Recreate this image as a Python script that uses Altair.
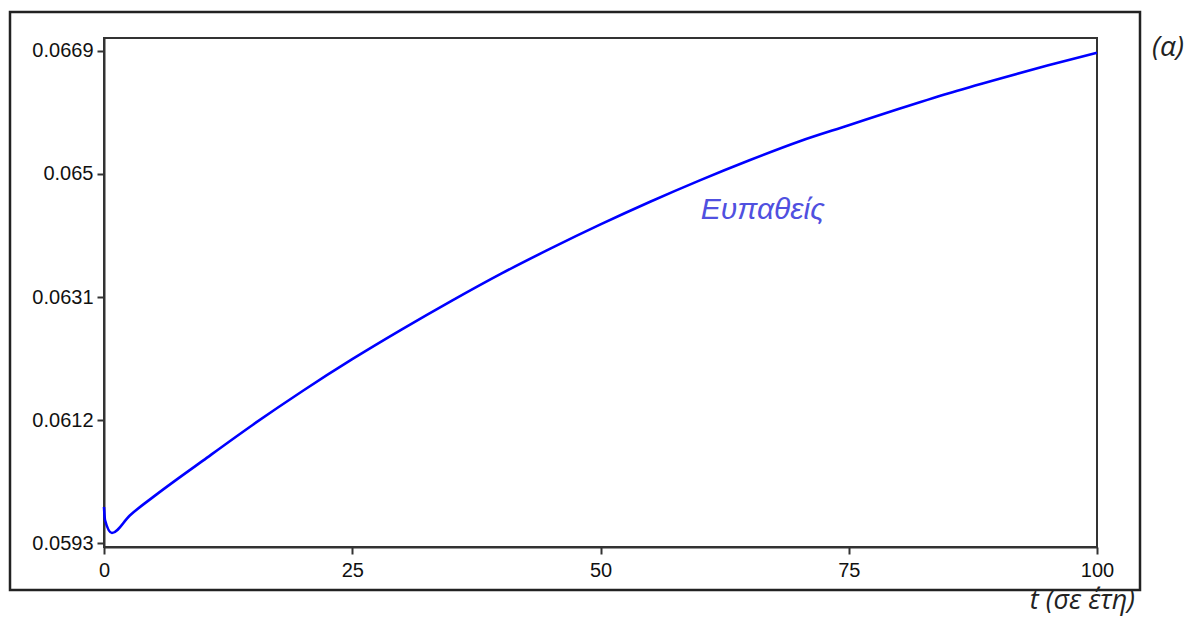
import altair as alt
import pandas as pd

# Values
t_years = [0, 0.1, 0.8, 2.6, 5, 10, 15, 20, 25, 30, 35, 40, 45, 50, 55, 60, 65,
           70, 75, 80, 85, 90, 95, 100]
susceptible = [0.05986, 0.05966, 0.05946, 0.05973, 0.06002, 0.06058, 0.06113,
               0.06165, 0.06214, 0.06260, 0.06304, 0.06346, 0.06385, 0.06422,
               0.06457, 0.06490, 0.06521, 0.06550, 0.06575, 0.06600, 0.06624,
               0.06646, 0.06667, 0.06687]
y_ticks = [0.0593, 0.0612, 0.0631, 0.065, 0.0669]
x_ticks = [0, 25, 50, 75, 100]
series_label = ["Ευπαθείς"]
label_t = [60.1]
label_s = [0.06444]
panel_tag = ["(α)"]
x_title = ["t (σε έτη)"]

df = pd.DataFrame({"t": t_years, "S": susceptible})
lab_df = pd.DataFrame({"t": label_t, "S": label_s, "label": series_label})

W, H = 993, 509

x_scale = alt.Scale(domain=[0, 100], nice=False)
y_scale = alt.Scale(domain=[0.059243, 0.067096], nice=False, zero=False)

line = alt.Chart(df).mark_line(
    color="#0000ff", strokeWidth=2.6, interpolate="monotone"
).encode(
    x=alt.X("t:Q", scale=x_scale,
            axis=alt.Axis(values=x_ticks, format="d", title=None, labelPadding=6,
                          labelFlush=False)),
    y=alt.Y("S:Q", scale=y_scale,
            axis=alt.Axis(values=y_ticks, format=".4~f", title=None, labelPadding=4,
                          labelFlush=False)),
)

label = alt.Chart(lab_df).mark_text(
    align="left", baseline="middle", fontStyle="italic", fontSize=30,
    font="Liberation Sans", color="#5050e0"
).encode(
    x=alt.X("t:Q", scale=x_scale),
    y=alt.Y("S:Q", scale=y_scale),
    text="label:N",
)

tag = alt.Chart(pd.DataFrame({"label": panel_tag})).mark_text(
    align="center", baseline="middle", fontStyle="italic", fontSize=28,
    font="Open Sans", color="#222222"
).encode(x=alt.value(1064), y=alt.value(10), text="label:N")

xt = alt.Chart(pd.DataFrame({"label": x_title})).mark_text(
    align="right", baseline="alphabetic", fontStyle="italic", fontSize=27,
    font="Open Sans", color="#222222"
).encode(x=alt.value(1031), y=alt.value(571), text="label:N")

frame = alt.Chart(pd.DataFrame({"a": [0]})).mark_rect(
    filled=False, stroke="#222222", strokeWidth=2.5
).encode(x=alt.value(-94), x2=alt.value(1036), y=alt.value(-26), y2=alt.value(552))

chart = alt.layer(frame, line, label, tag, xt).properties(
    width=W, height=H,
    autosize=alt.AutoSizeParams(type="none"),
    padding={"left": 96, "top": 30, "right": 88, "bottom": 71},
    background="white",
).configure_view(
    stroke="#333333", strokeWidth=2
).configure_axis(
    grid=False, domainColor="#333333", domainWidth=2, tickColor="#333333",
    tickWidth=2, tickSize=7, labelFont="Liberation Sans", labelFontSize=20,
    labelColor="#111111",
)

chart.save("out.html", embed_options={"renderer": "svg", "actions": False})
